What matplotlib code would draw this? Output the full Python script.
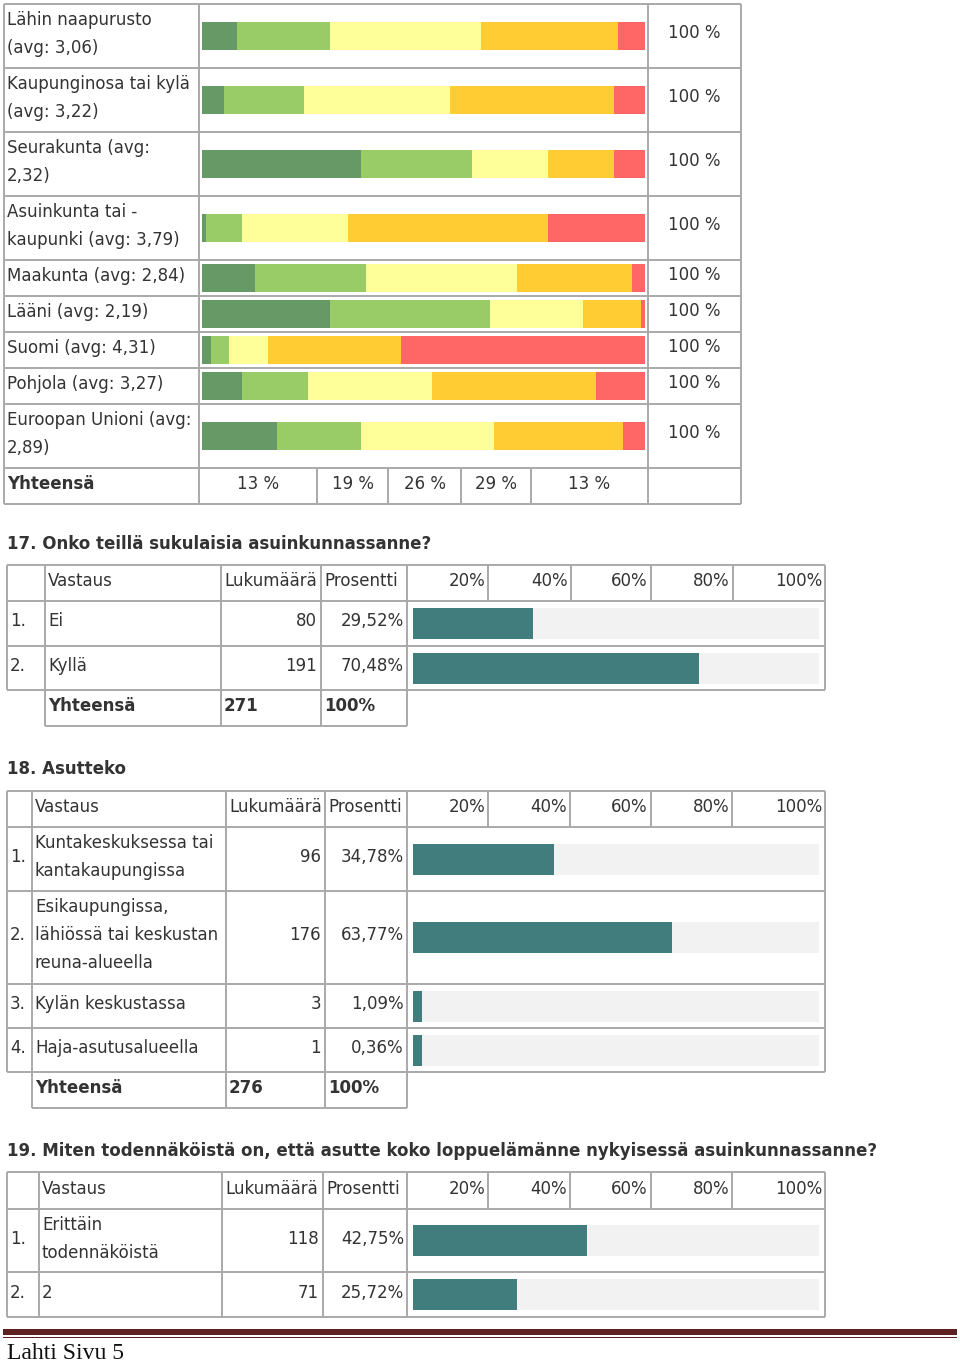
import matplotlib
matplotlib.use('Agg')
import matplotlib.pyplot as plt
import numpy as np

plt.rcParams['font.family'] = ['DejaVu Sans']

# ---------------- data ----------------
q16_labels = ["Lähin naapurusto\n(avg: 3,06)",
              "Kaupunginosa tai kylä\n(avg: 3,22)",
              "Seurakunta (avg:\n2,32)",
              "Asuinkunta tai -\nkaupunki (avg: 3,79)",
              "Maakunta (avg: 2,84)",
              "Lääni (avg: 2,19)",
              "Suomi (avg: 4,31)",
              "Pohjola (avg: 3,27)",
              "Euroopan Unioni (avg:\n2,89)"]
q16_s1 = [8, 5, 36, 1, 12, 29, 2, 9, 17]
q16_s2 = [21, 18, 25, 8, 25, 36, 4, 15, 19]
q16_s3 = [34, 33, 17, 24, 34, 21, 9, 28, 30]
q16_s4 = [31, 37, 15, 45, 26, 13, 30, 37, 29]
q16_s5 = [6, 7, 7, 22, 3, 1, 55, 11, 5]
q16_row_total = ["100 %"] * 9
q16_totals = [13, 19, 26, 29, 13]
q16_colors = ['#669966', '#99cc66', '#ffff99', '#ffcc33', '#ff6666']

header_labels = ["Vastaus", "Lukumäärä", "Prosentti"]
tick_labels = ["20%", "40%", "60%", "80%", "100%"]

q17_title = "17. Onko teillä sukulaisia asuinkunnassanne?"
q17_answers = ["Ei", "Kyllä"]
q17_counts = [80, 191]
q17_pcts = [29.52, 70.48]
q17_total = 271

q18_title = "18. Asutteko"
q18_answers = ["Kuntakeskuksessa tai\nkantakaupungissa",
               "Esikaupungissa,\nlähiössä tai keskustan\nreuna-alueella",
               "Kylän keskustassa",
               "Haja-asutusalueella"]
q18_counts = [96, 176, 3, 1]
q18_pcts = [34.78, 63.77, 1.09, 0.36]
q18_total = 276

q19_title = "19. Miten todennäköistä on, että asutte koko loppuelämänne nykyisessä asuinkunnassanne?"
q19_answers = ["Erittäin\ntodennäköistä", "2"]
q19_counts = [118, 71]
q19_pcts = [42.75, 25.72]

footer_text = "Lahti Sivu 5"

# ---------------- layout ----------------
W, H = 960, 1363
TXT = '#333333'
GRID = '#a9a9a9'
LW = 1.4
FS = 12
LINE_H = 28
DY = -2          # text sits slightly above the cell centre
TEAL = '#427d7d'
BARBG = '#f2f2f2'
MIN_BAR = 2.1    # minimum drawn bar width (percent), as in the source report

fig = plt.figure(figsize=(W / 100, H / 100), dpi=100)
bg = fig.add_axes([0, 0, 1, 1])
bg.set_xlim(0, W)
bg.set_ylim(H, 0)
bg.axis('off')


def px_axes(x0, y0, x1, y1):
    ax = fig.add_axes([x0 / W, 1 - y1 / H, (x1 - x0) / W, (y1 - y0) / H])
    ax.set_ylim(y1, y0)
    ax.axis('off')
    ax.patch.set_alpha(0)
    return ax


def hline(y, x0, x1):
    bg.plot([x0, x1], [y, y], color=GRID, lw=LW, solid_capstyle='butt')


def vline(x, y0, y1):
    bg.plot([x, x], [y0, y1], color=GRID, lw=LW, solid_capstyle='butt')


def txt(x, y, s, ha='left', bold=False):
    bg.text(x, y + DY, s, ha=ha, va='center', fontsize=FS, color=TXT,
            fontweight='bold' if bold else 'normal')


def multiline(x, yc, text, ha='left', bold=False):
    lines = text.split('\n')
    n = len(lines)
    for i, ln in enumerate(lines):
        y = yc + (i - (n - 1) / 2) * LINE_H
        txt(x, y, ln, ha=ha, bold=bold)


def fmt_pct(p):
    return f"{p:.2f}%".replace('.', ',')


# ---------------- question 16 (stacked) ----------------
rows16 = [4, 68, 132, 196, 260, 296, 332, 368, 404, 468]
tot16 = 504
for y in rows16 + [tot16]:
    hline(y, 4, 741)
for x in [4, 199, 648, 741]:
    vline(x, 4, tot16)
tot_cells = [199, 317, 388, 461, 531, 648]
for x in tot_cells[1:-1]:
    vline(x, rows16[-1], tot16)

centers16 = [(rows16[i] + rows16[i + 1]) / 2 for i in range(len(rows16) - 1)]
for lab, yc, t in zip(q16_labels, centers16, q16_row_total):
    multiline(7, yc, lab)
    txt((648 + 741) / 2, yc - 1, t, ha='center')

ax16 = px_axes(202, rows16[0], 645, rows16[-1])
ax16.set_xlim(0, 100)
left = np.zeros(len(q16_labels))
for vals, col in zip([q16_s1, q16_s2, q16_s3, q16_s4, q16_s5], q16_colors):
    vals = np.array(vals, dtype=float)
    ax16.barh(centers16, vals, left=left, height=28, color=col, linewidth=0)
    left += vals

ytot = (rows16[-1] + tot16) / 2
txt(7, ytot, "Yhteensä", bold=True)
for i, v in enumerate(q16_totals):
    txt((tot_cells[i] + tot_cells[i + 1]) / 2, ytot, f"{v} %", ha='center')


# ---------------- response tables ----------------
def response_table(title, title_y, cols, rows, answers, counts, pcts, total=None, total_bottom=None):
    bg.text(7, title_y, title, ha='left', va='center', fontsize=FS, color=TXT, fontweight='bold')
    xl, xa, xc, xp, xb = cols[:5]
    tcols = cols[4:]
    xr = cols[-1]
    top, hdr = rows[0], rows[1]
    last = rows[-1]
    for y in rows:
        hline(y, xl, xr)
    vline(xl, top, last)
    vline(xr, top, last)
    bottom = total_bottom if total is not None else last
    for x in [xa, xc, xp, xb]:
        vline(x, top, bottom)
    for x in tcols[1:-1]:
        vline(x, top, hdr)
    if total is not None:
        hline(total_bottom, xa, xb)
    # header
    yh = (top + hdr) / 2
    for x, t in zip([xa, xc, xp], header_labels):
        txt(x + 3, yh, t)
    for i, t in enumerate(tick_labels):
        txt(tcols[i + 1] - 3, yh, t, ha='right')
    centers = [(rows[i] + rows[i + 1]) / 2 for i in range(1, len(rows) - 1)]
    for i, (ans, c, p, yc) in enumerate(zip(answers, counts, pcts, centers)):
        txt(xl + 3, yc, f"{i + 1}.")
        multiline(xa + 3, yc, ans)
        txt(xp - 4, yc, str(c), ha='right')
        txt(xb - 3, yc, fmt_pct(p), ha='right')
    if total is not None:
        yt = (last + total_bottom) / 2
        txt(xa + 3, yt, "Yhteensä", bold=True)
        txt(xc + 3, yt, str(total), bold=True)
        txt(xp + 3, yt, "100%", bold=True)
    ax = px_axes(xb + 6, rows[1], xr - 6, rows[-1])
    ax.set_xlim(0, 100)
    ax.barh(centers, [100] * len(centers), height=31, color=BARBG, linewidth=0)
    ax.barh(centers, np.maximum(pcts, MIN_BAR), height=31, color=TEAL, linewidth=0)


response_table(q17_title, 544, [7, 45, 221, 321, 407, 488, 571, 651, 733, 825],
               [565, 601, 646, 690], q17_answers, q17_counts, q17_pcts, q17_total, 726)
response_table(q18_title, 769, [7, 32, 226, 325, 407, 488, 570, 651, 732, 825],
               [791, 827, 891, 984, 1028, 1072], q18_answers, q18_counts, q18_pcts, q18_total, 1108)
response_table(q19_title, 1151, [7, 39, 222, 323, 407, 488, 570, 651, 732, 825],
               [1172, 1209, 1272, 1317], q19_answers, q19_counts, q19_pcts)

# ---------------- footer ----------------
bg.add_patch(plt.Rectangle((3, 1329), 954, 6, color='#5e2222', linewidth=0))
bg.add_patch(plt.Rectangle((3, 1336.5), 954, 1.5, color='#5e2222', linewidth=0))
bg.text(7, 1364, footer_text, ha='left', va='bottom', fontsize=17, color='#111111',
        family='Liberation Serif')

fig.savefig('out.png', dpi=100)
